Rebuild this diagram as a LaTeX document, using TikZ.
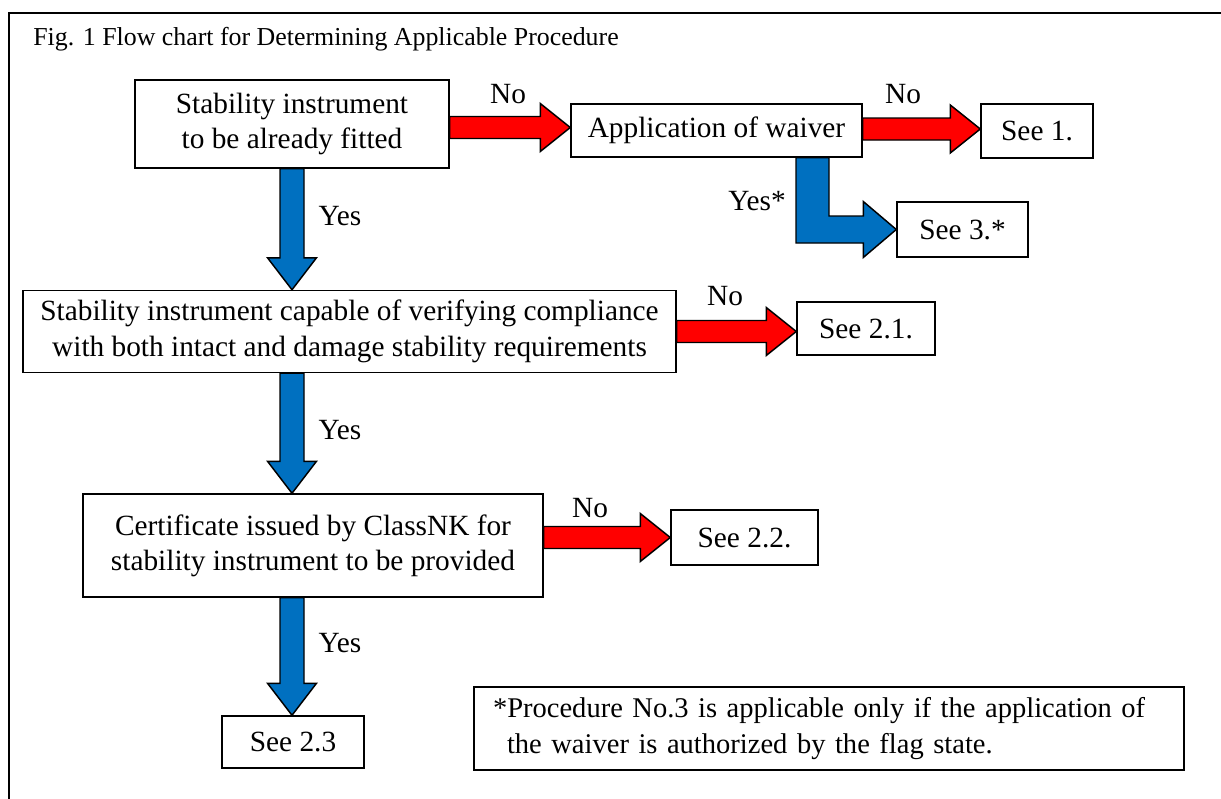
\documentclass[tikz,border=0pt]{standalone}
\usepackage{fontspec}
\setmainfont{Liberation Serif}
\usetikzlibrary{calc}
\definecolor{fcred}{RGB}{255,0,0}
\definecolor{fcblue}{RGB}{0,112,192}
\newcommand\fatright[3]{%
  \coordinate (fa) at (#2 |- #3);
  \draw[#1] ($(fa)+(0,-11)$) -- ($(#3)+(-30,-11)$) -- ($(#3)+(-30,-24)$) -- (#3)
    -- ($(#3)+(-30,24)$) -- ($(#3)+(-30,11)$) -- ($(fa)+(0,11)$) -- cycle;}
\newcommand\fatdown[3]{%
  \coordinate (fa) at (#3 |- #2);
  \draw[#1] ($(fa)+(-12,0)$) -- ($(#3)+(-12,-32)$) -- ($(#3)+(-24.5,-32)$) -- (#3)
    -- ($(#3)+(24.5,-32)$) -- ($(#3)+(12,-32)$) -- ($(fa)+(12,0)$) -- cycle;}
\begin{document}
\begin{tikzpicture}[x=0.75pt,y=-0.75pt,
  box/.style={draw, line width=1.1pt, fill=white, align=center, inner sep=0pt,
    font=\fontsize{22}{26.5}\selectfont},
  sz/.style 2 args={minimum width=#1*0.75pt, minimum height=#2*0.75pt},
  lbl/.style={font=\fontsize{22}{26}\selectfont, inner sep=0pt},
  redarrow/.style={draw, line width=1.1pt, fill=fcred, line join=miter},
  bluearrow/.style={draw, line width=1.1pt, fill=fcblue, line join=miter}]
\useasboundingbox (0,0) rectangle (1221,799);
\clip (0,0) rectangle (1221,799);
\draw[line width=1.5pt] (9,820) -- (9,13) -- (1240,13);
\node[lbl, font=\fontsize{19.4}{23}\selectfont, anchor=base west] (title) at (33,46) {Fig. 1 Flow chart for Determining Applicable Procedure};

% boxes
\node[box, sz={314}{88}] (A) at (292,124) {Stability instrument\\to be already fitted};
\node[box, sz={291}{53}] (B) at (716.5,130.5) {Application of waiver};
\node[box, sz={112}{54}] (S1) at (1037,131) {See 1.};
\node[box, sz={131}{55}] (S3) at (962.5,229.5) {See 3.*};
\node[box, sz={653}{82}] (C) at (349.5,331.5) {Stability instrument capable of verifying compliance\\with both intact and damage stability requirements};
\node[box, sz={138}{53}] (S21) at (866,328.5) {See 2.1.};
\node[box, sz={460}{103}] (D) at (313,545.5) {Certificate issued by ClassNK for\\stability instrument to be provided};
\node[box, sz={147}{55}] (S22) at (744.5,537.5) {See 2.2.};
\node[box, sz={142}{52}] (S23) at (293,742) {See 2.3};
\node[box, sz={710}{83}, text width=672*0.75pt, align=left, font=\fontsize{21.4}{26.5}\selectfont] (N) at (829,728.5) {*Procedure No.3 is applicable only if the application of\\\hspace*{10.5pt}the waiver is authorized by the flag state.};

% column of the blue arrows
\coordinate (col) at (292,0);
\coordinate (r1t) at ($(B.west)+(0,-3)$);
\coordinate (r2t) at ($(S1.west)+(0,-2)$);
\coordinate (r3t) at ($(S21.west)+(0,3)$);
\coordinate (r4t) at (S22.west);
\coordinate (b1t) at (col |- C.north);
\coordinate (b2t) at (col |- D.north);
\coordinate (b3t) at (col |- S23.north);

\fatright{redarrow}{A.east}{r1t}
\fatright{redarrow}{B.east}{r2t}
\fatright{redarrow}{C.east}{r3t}
\fatright{redarrow}{D.east}{r4t}
\fatdown{bluearrow}{A.south}{b1t}
\fatdown{bluearrow}{C.south}{b2t}
\fatdown{bluearrow}{D.south}{b3t}

% L-shaped arrow from waiver to See 3.*
\coordinate (Lx) at (812.5,0);
\coordinate (Lt) at (Lx |- B.south);
\coordinate (p1) at ($(Lt)+(-16.5,0)$);
\coordinate (p2) at ($(Lt)+(16.5,0)$);
\coordinate (h1) at ($(S3.west)+(-33,-13.5)$);
\coordinate (h2) at ($(S3.west)+(-33,-28)$);
\coordinate (h3) at ($(S3.west)+(-33,28)$);
\coordinate (h4) at ($(S3.west)+(-33,13.5)$);
\draw[bluearrow] (p1) -- (p2) -- (p2 |- h1) -- (h1) -- (h2) -- (S3.west) -- (h3) -- (h4) -- (p1 |- h4) -- cycle;

% labels
\node[lbl] (n1) at (508,94) {No};
\node[lbl] (n2) at (903,94) {No};
\node[lbl] (y0) at (757,201) {Yes*};
\node[lbl] (y1) at (340,216) {Yes};
\node[lbl] (n3) at (725,296) {No};
\node[lbl] (y2) at (340,430) {Yes};
\node[lbl] (n4) at (590,508) {No};
\node[lbl] (y3) at (340,643) {Yes};
\end{tikzpicture}
\end{document}
